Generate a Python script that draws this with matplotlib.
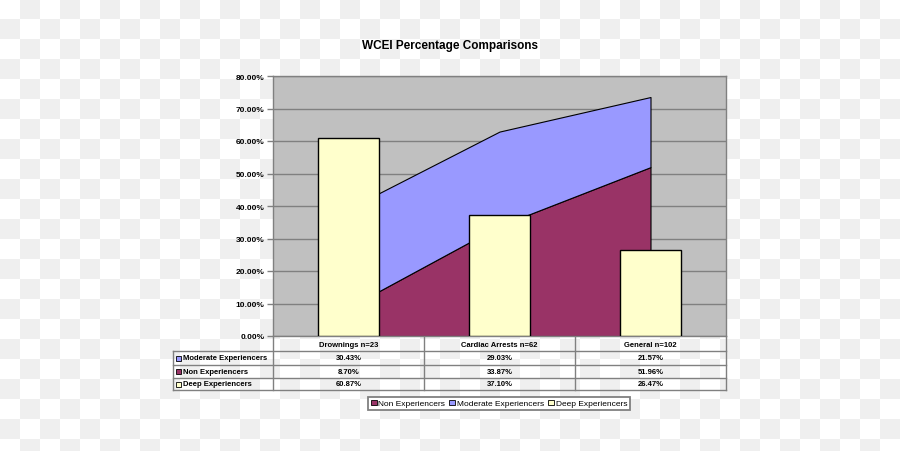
import numpy as np
import matplotlib
matplotlib.use("Agg")
import matplotlib.pyplot as plt
from matplotlib.patches import Patch, Rectangle

categorias = ["Drownings n=23", "Cardiac Arrests n=62", "General n=102"]
series = ["Moderate Experiencers", "Non Experiencers", "Deep Experiencers"]
non_exp = [8.70, 33.87, 51.96]
moderate_exp = [30.43, 29.03, 21.57]
deep_exp = [60.87, 37.10, 26.47]
yticks = [0, 10, 20, 30, 40, 50, 60, 70, 80]

COR_NON = "#993366"
COR_MOD = "#9999FF"
COR_DEEP = "#FFFFCC"
COR_PLOT = "#C0C0C0"
COR_LINHA = "#808080"
FONTE = ["Liberation Sans Narrow", "Liberation Sans", "DejaVu Sans"]

W, H = 900, 452
fig = plt.figure(figsize=(W / 100, H / 100), dpi=100)

# fundo xadrez (padrão de transparência)
bg = fig.add_axes([0, 0, 1, 1])
nl, nc = int(np.ceil(H / 20)), int(np.ceil(W / 20))
xadrez = (np.add.outer(np.arange(nl), np.arange(nc)) % 2).astype(float)
bg.imshow(xadrez, cmap=matplotlib.colors.ListedColormap(["#FFFFFF", "#EFEFEF"]),
          extent=(0, nc * 20, nl * 20, 0), interpolation="nearest", aspect="auto")
bg.set_xlim(0, W)
bg.set_ylim(H, 0)
bg.axis("off")

# área do gráfico em pixels
px_l, px_r, px_t, px_b = 273, 726, 77, 337
ax = fig.add_axes([px_l / W, 1 - px_b / H, (px_r - px_l) / W, (px_b - px_t) / H])
ax.set_facecolor(COR_PLOT)

x = np.arange(len(categorias))
non = np.array(non_exp)
mod_top = non + np.array(moderate_exp)
ax.fill_between(x, 0, non, facecolor=COR_NON, edgecolor="black", linewidth=0.8, zorder=2)
ax.fill_between(x, non, mod_top, facecolor=COR_MOD, edgecolor="black", linewidth=0.8, zorder=2)
ax.bar(x, deep_exp, width=0.4, color=COR_DEEP, edgecolor="black", linewidth=1, zorder=3)

ax.set_xlim(-0.5, len(categorias) - 0.5)
ax.set_ylim(0, 80)
ax.set_yticks(yticks)
ax.set_yticklabels([f"{v:.2f}%" for v in yticks], fontsize=6, fontweight="bold",
                   family=FONTE)
ax.set_xticks([])
ax.grid(axis="y", color=COR_LINHA, linewidth=1, zorder=1)
ax.set_axisbelow(True)
for s in ax.spines.values():
    s.set_color(COR_LINHA)
    s.set_linewidth(1)
ax.tick_params(axis="y", length=4, width=1, color=COR_LINHA, pad=2)

fig.text(0.5, 1 - 46.5 / H, "WCEI Percentage Comparisons", ha="center", va="center",
         fontsize=8.5, fontweight="bold", family=FONTE)

# ---------------- tabela de dados ----------------
linhas_y = [337, 352, 366, 379, 391]
col_label_l = 173
cols_x = [px_l + (px_r - px_l) * i / len(categorias) for i in range(len(categorias) + 1)]
kw = dict(color=COR_LINHA, linewidth=1, zorder=5)
for yy in linhas_y[1:]:
    bg.plot([col_label_l, px_r], [yy, yy], **kw)
bg.plot([col_label_l, col_label_l], [linhas_y[1], linhas_y[-1]], **kw)
for xx in cols_x:
    bg.plot([xx, xx], [linhas_y[0], linhas_y[-1]], **kw)

txt = dict(fontsize=5.5, fontweight="bold", family=FONTE, va="center", zorder=6)
for i, c in enumerate(categorias):
    bg.text((cols_x[i] + cols_x[i + 1]) / 2, (linhas_y[0] + linhas_y[1]) / 2 + 1, c,
            ha="center", **txt)

valores = [moderate_exp, non_exp, deep_exp]
cores = [COR_MOD, COR_NON, COR_DEEP]
for r, (nome, vals, cor) in enumerate(zip(series, valores, cores)):
    yc = (linhas_y[r + 1] + linhas_y[r + 2]) / 2
    bg.add_patch(Rectangle((col_label_l + 3, yc - 2.5), 5, 5, facecolor=cor,
                           edgecolor="black", linewidth=0.6, zorder=6))
    bg.text(col_label_l + 10, yc, nome, ha="left", **txt)
    for i, v in enumerate(vals):
        bg.text((cols_x[i] + cols_x[i + 1]) / 2, yc, f"{v:.2f}%", ha="center", **txt)

# ---------------- legenda ----------------
handles = [Patch(facecolor=COR_NON, edgecolor="black", linewidth=0.6),
           Patch(facecolor=COR_MOD, edgecolor="black", linewidth=0.6),
           Patch(facecolor=COR_DEEP, edgecolor="black", linewidth=0.6)]
leg = fig.legend(handles, ["Non Experiencers", "Moderate Experiencers", "Deep Experiencers"],
                 loc="center", bbox_to_anchor=(499 / W, 1 - 404.5 / H), ncol=3,
                 prop={"family": FONTE, "size": 6}, handlelength=0.7, handleheight=0.7,
                 handletextpad=0.2, columnspacing=0.5, borderpad=0.35,
                 fancybox=False, framealpha=1, edgecolor=COR_LINHA)
leg.get_frame().set_linewidth(1.3)

fig.savefig("out.png", dpi=100)
